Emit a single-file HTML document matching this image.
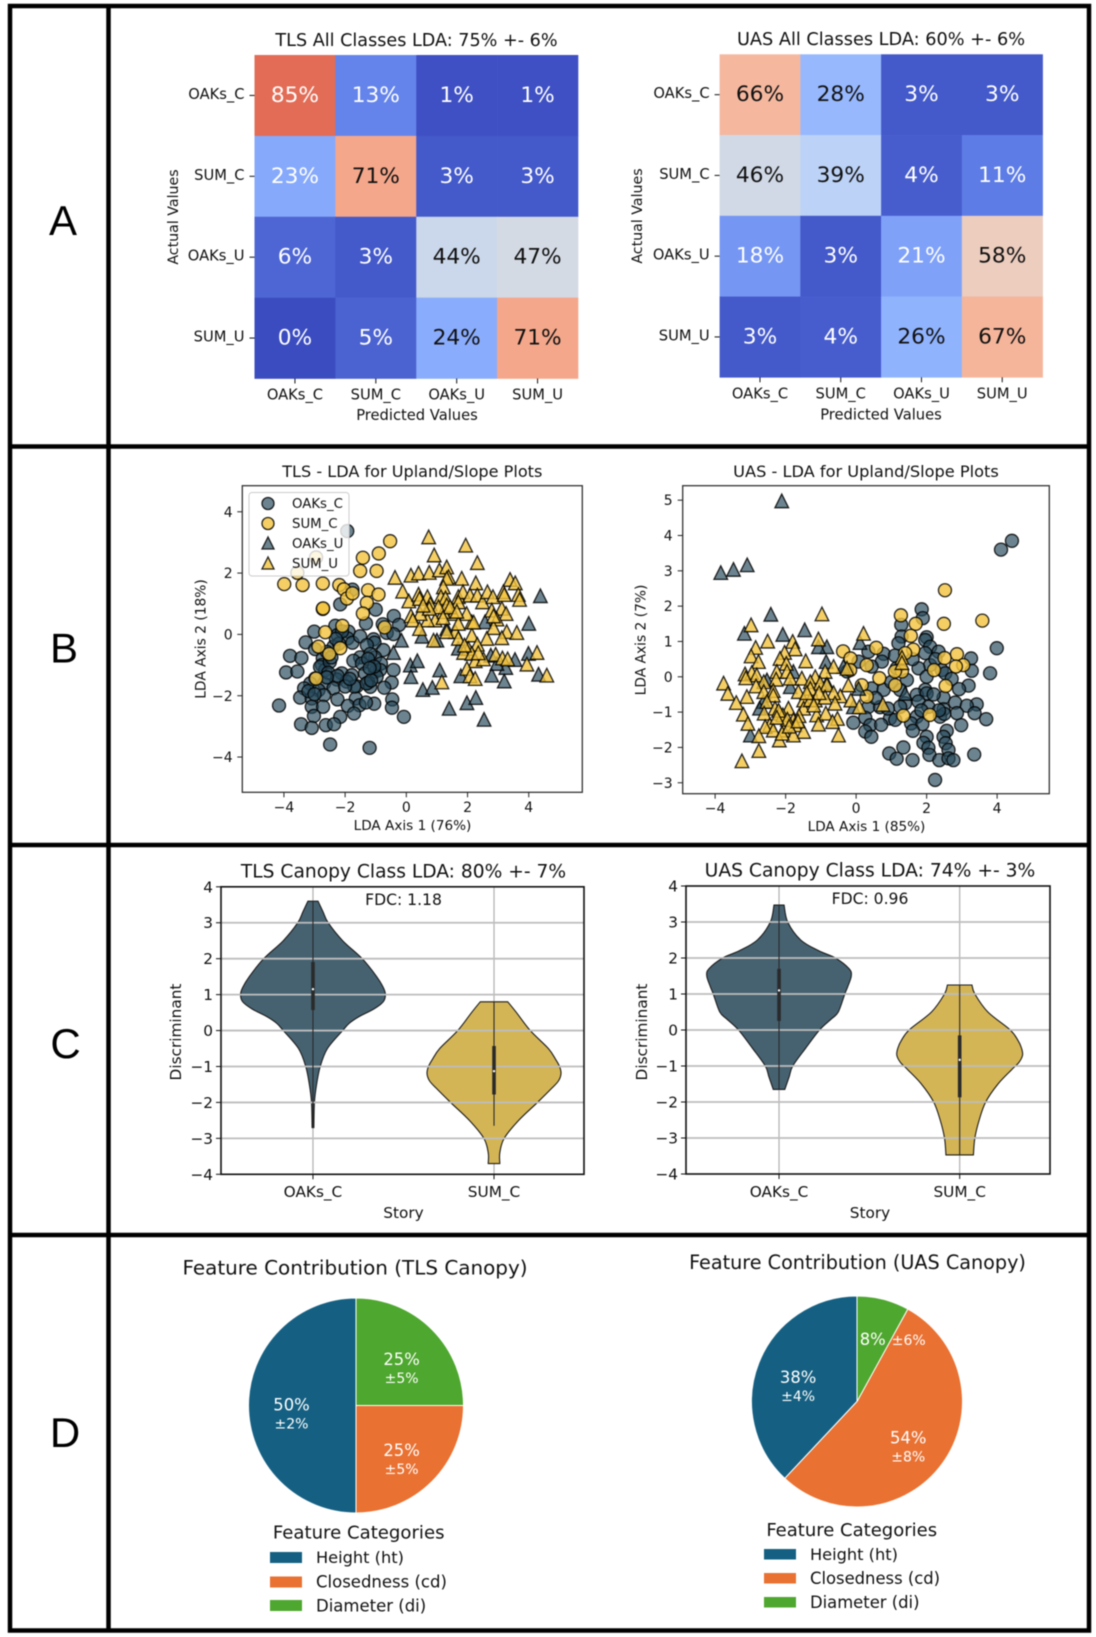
<!DOCTYPE html>
<html lang="en">
<head>
<meta charset="utf-8">
<title>LDA classification figure</title>
<style>
html,body{margin:0;padding:0;background:#fff;}
svg{display:block;filter:blur(0.45px);}
text{font-family:"DejaVu Sans","Liberation Sans",sans-serif;fill:#111;}
.letter{font-family:"Liberation Sans",sans-serif;font-size:42px;text-anchor:middle;fill:#000;}
.mid{text-anchor:middle;}
</style>
</head>
<body>
<svg id="fig" xmlns="http://www.w3.org/2000/svg" width="1096" height="1637" viewBox="0 0 1096 1637">
  <rect x="0" y="0" width="1096" height="1637" fill="#fff"/>

  <g>
    <text class="mid" x="416.5" y="46" font-size="17.6">TLS All Classes LDA: 75% +- 6%</text>
    <text class="mid" x="417" y="420" font-size="14.7">Predicted Values</text>
    <text class="mid" transform="translate(178,217) rotate(-90)" font-size="14.2">Actual Values</text>
    <g id="heatTLS"></g>
    <text class="mid" x="881" y="45" font-size="17.7">UAS All Classes LDA: 60% +- 6%</text>
    <text class="mid" x="881" y="419.5" font-size="14.7">Predicted Values</text>
    <text class="mid" transform="translate(642,216) rotate(-90)" font-size="14.2">Actual Values</text>
    <g id="heatUAS"></g>
  </g>

  <g>
    <text class="mid" x="412.3" y="477" font-size="16.1">TLS - LDA for Upland/Slope Plots</text>
    <text class="mid" x="412.5" y="830" font-size="13.6">LDA Axis 1 (76%)</text>
    <text class="mid" transform="translate(205.5,639) rotate(-90)" font-size="13.8">LDA Axis 2 (18%)</text>
    <g id="scatterTLS"></g>
    <g>
      <rect x="249" y="492.5" width="100" height="83.5" rx="3" fill="#fff" fill-opacity="0.8" stroke="#ccc" stroke-width="1"/>
      <circle cx="268" cy="503.5" r="6" fill="#264a5c" fill-opacity="0.68" stroke="#000" stroke-opacity="0.85" stroke-width="1.3"/>
      <circle cx="268" cy="523.5" r="6" fill="#f2c33d" fill-opacity="0.8" stroke="#000" stroke-opacity="0.85" stroke-width="1.3"/>
      <polygon points="268,537 262,549 274,549" fill="#264a5c" fill-opacity="0.68" stroke="#000" stroke-opacity="0.85" stroke-width="1.3"/>
      <polygon points="268,557 262,569 274,569" fill="#f2c33d" fill-opacity="0.8" stroke="#000" stroke-opacity="0.85" stroke-width="1.3"/>
      <text x="292" y="508" font-size="13.3">OAKs_C</text>
      <text x="292" y="528" font-size="13.3">SUM_C</text>
      <text x="292" y="548" font-size="13.3">OAKs_U</text>
      <text x="292" y="568" font-size="13.3">SUM_U</text>
    </g>
    <text class="mid" x="866" y="477" font-size="16.2">UAS - LDA for Upland/Slope Plots</text>
    <text class="mid" x="866.5" y="831" font-size="13.6">LDA Axis 1 (85%)</text>
    <text class="mid" transform="translate(645.5,640) rotate(-90)" font-size="13.8">LDA Axis 2 (7%)</text>
    <g id="scatterUAS"></g>
  </g>

  <g>
    <text class="mid" x="403.5" y="877.5" font-size="18.65">TLS Canopy Class LDA: 80% +- 7%</text>
    <text class="mid" x="403.5" y="1218" font-size="15.3">Story</text>
    <text class="mid" transform="translate(181,1032) rotate(-90)" font-size="15.3">Discriminant</text>
    <g id="violinTLS"></g>
    <text class="mid" x="403.5" y="905" font-size="15.6">FDC: 1.18</text>
    <text class="mid" x="870" y="876.5" font-size="18.7">UAS Canopy Class LDA: 74% +- 3%</text>
    <text class="mid" x="870" y="1218" font-size="15.3">Story</text>
    <text class="mid" transform="translate(647,1032) rotate(-90)" font-size="15.3">Discriminant</text>
    <g id="violinUAS"></g>
    <text class="mid" x="870" y="904" font-size="15.6">FDC: 0.96</text>
  </g>

  <g>
    <text class="mid" x="355" y="1274.5" font-size="19.95">Feature Contribution (TLS Canopy)</text>
    <g id="pieTLS"></g>
    <g>
      <text class="mid" x="358.7" y="1538.5" font-size="18.1">Feature Categories</text>
      <rect x="270" y="1552" width="32" height="11" fill="#156082"/>
      <rect x="270" y="1576.5" width="32" height="11" fill="#E97132"/>
      <rect x="270" y="1600" width="32" height="11" fill="#4EA72E"/>
      <text x="316" y="1563" font-size="16.2">Height (ht)</text>
      <text x="316" y="1587.5" font-size="16.5">Closedness (cd)</text>
      <text x="316" y="1611.5" font-size="16.5">Diameter (di)</text>
    </g>
    <text class="mid" x="857.5" y="1269" font-size="19.2">Feature Contribution (UAS Canopy)</text>
    <g id="pieUAS"></g>
    <g>
      <text class="mid" x="851.7" y="1536" font-size="18">Feature Categories</text>
      <rect x="764" y="1549" width="32" height="10.5" fill="#156082"/>
      <rect x="764" y="1573" width="32" height="10.5" fill="#E97132"/>
      <rect x="764" y="1597" width="32" height="10.5" fill="#4EA72E"/>
      <text x="810" y="1560" font-size="16.2">Height (ht)</text>
      <text x="810" y="1584" font-size="16.4">Closedness (cd)</text>
      <text x="810" y="1608" font-size="16.4">Diameter (di)</text>
    </g>
  </g>

  <g stroke="#000" fill="none">
    <rect x="10" y="6" width="1079" height="1624.5" stroke-width="4.5"/>
    <line x1="108.5" y1="6" x2="108.5" y2="1630" stroke-width="4.5"/>
    <line x1="10" y1="446.5" x2="1089" y2="446.5" stroke-width="4.5"/>
    <line x1="10" y1="845" x2="1089" y2="845" stroke-width="4.5"/>
    <line x1="10" y1="1235" x2="1089" y2="1235" stroke-width="4.5"/>
  </g>
  <text class="letter" x="63" y="235">A</text>
  <text class="letter" x="64" y="662.5">B</text>
  <text class="letter" x="65.5" y="1058">C</text>
  <text class="letter" x="65" y="1447">D</text>
</svg>

<script>
// ---------- chart data ----------
const heatCategories = ['OAKs_C','SUM_C','OAKs_U','SUM_U'];
const tlsConfusion = [[85,13,1,1],[23,71,3,3],[6,3,44,47],[0,5,24,71]];
const uasConfusion = [[66,28,3,3],[46,39,4,11],[18,3,21,58],[3,4,26,67]];

const tlsXTicks = [-4,-2,0,2,4];
const tlsYTicks = [-4,-2,0,2,4];
const uasXTicks = [-4,-2,0,2,4];
const uasYTicks = [-3,-2,-1,0,1,2,3,4,5];

const tlsOaksC = [[-1.93,3.37],[-1.76,1.46],[-2.16,.98],[-1,.81],[-1.32,.36],[-.41,.6],[-.24,.31],[-.77,.33],[-.64,.05],[-.42,.01],[-3.01,.09],[-2.32,.28],[-1.89,.09],[-2.25,-.02],[-1.92,-.13],[-1.76,-.27],[-1.51,-.06],[-1.07,-.16],[-1.04,-.27],[-3.29,-.26],[-2.98,-.48],[-1.29,-.35],[-.75,-.51],[-3.8,-.7],[-3.43,-.77],[-2.73,-.78],[-2.38,-.4],[-2.6,-.57],[-1.51,-.75],[-1.02,-.75],[-1.18,-.64],[-1.73,-.86],[-1.45,-.95],[-.83,-.95],[-3.93,-1.24],[-3.56,-1.21],[-2.76,-1],[-2.65,-1.16],[-2.82,-1.06],[-1.02,-1.22],[-.42,-1.16],[-.86,-1.16],[-2.11,-1.27],[-1.78,-1.33],[-1.35,-1.27],[-.97,-1.38],[-2.98,-1.44],[-2.27,-1.47],[-3.14,-1.6],[-3.34,-1.76],[-2.69,-1.6],[-1.95,-1.54],[-.48,-1.57],[-1.24,-1.57],[-1.62,-1.69],[-1.18,-1.71],[-.72,-1.74],[-2.87,-1.82],[-2.38,-1.76],[-3.47,-2.06],[-3.09,-2.09],[-2.69,-1.98],[-2.25,-2.12],[-1.65,-2.09],[-.46,-2.12],[-4.16,-2.32],[-3.09,-2.36],[-2.72,-2.36],[-1.91,-2.33],[-1.53,-2.31],[-1.05,-2.26],[-1.32,-2.22],[-.47,-2.39],[-1.71,-2.58],[-2.16,-2.69],[-3.02,-2.66],[-.08,-2.69],[-3.44,-2.93],[-3.09,-3.05],[-2.63,-2.96],[-2.36,-2.93],[-2.49,-3.59],[-1.2,-3.7],[-2.5,-.9],[-2.55,-1.25],[-2.45,-.75],[-1.25,-.8],[-1.05,-1.05],[-1.3,-1.6],[-2.2,-.3],[-2.1,.1],[-1.7,-1.7],[-2.25,-1.35],[-2,-1.7],[-3.2,-1.85],[-3,-1.95],[-1.15,-1.5],[-2.6,-1.4],[-1.2,-1.1],[-2.3,-.15],[-1.85,-1.45]];
const tlsSumC = [[-3.99,1.64],[-3.39,1.61],[-3.56,2.01],[-2.95,2.51],[-2.73,1.66],[-2.19,1.61],[-2.04,1.47],[-1.94,1.17],[-1.76,1.34],[-1.25,1.44],[-1.29,1.03],[-1.42,.68],[-.91,1.3],[-2.73,.83],[-2.72,.85],[-1.42,2.5],[-.9,2.64],[-.53,3.04],[-1.51,2.07],[-.97,2.07],[-.71,.23],[-2.09,.28],[-2.65,.07],[-2.87,-.4],[-2.16,-.45],[-2.52,-.64],[-2.95,-1.44]];
const tlsOaksU = [[4.38,1.26],[4,.36],[-.16,-.19],[-.42,-.59],[.13,-1],[.36,-.86],[.15,-1.38],[.54,-1.8],[.85,-1.73],[1.09,-1.16],[1.4,-2.41],[1.98,-2.23],[2.27,-2.06],[2.54,-2.77],[2.79,-1.33],[3.2,-1.52],[3.25,-1.08],[1.78,-1.35],[1.7,-.45],[2.76,-.68],[2.96,-.95],[3.55,-.82],[3.99,-.62],[4.32,-1.3],[2.57,.41],[1.32,.19],[.51,-.06],[1,-.19]];
const tlsSumU = [[.73,3.18],[1.94,2.91],[.91,2.59],[2.32,2.34],[-.37,1.86],[.15,1.93],[.4,2],[.75,2.02],[1.08,2.1],[1.32,2.2],[1.38,1.88],[1.32,1.83],[1.81,1.83],[2.27,1.68],[3.39,1.79],[3.56,1.68],[-.12,1.41],[.08,1.09],[.4,1.31],[.43,1.17],[.69,1.23],[.78,.99],[1.21,1.55],[1.13,1.23],[1.28,1.19],[1.7,1.23],[1.85,1.39],[1.7,1.06],[2.08,1.28],[2.32,1.28],[2.49,1.06],[2.65,1.39],[2.83,1.23],[3.17,1.39],[3.66,1.3],[3.7,1.14],[3.12,.85],[2.79,.79],[3.26,.68],[2.96,.5],[2.85,.22],[3.28,.09],[3.61,.06],[3.12,-.11],[2.63,-.13],[2.14,.41],[1.97,.68],[1.54,.68],[1.21,.74],[.94,.47],[.69,.47],[.45,.68],[.15,.61],[.21,.47],[.43,.19],[1.6,.09],[1.32,.09],[1.7,.36],[2.14,-.02],[1.7,-.13],[2.32,-.32],[.89,-.19],[2.03,-.46],[1.87,-.59],[2.14,-.62],[2.25,-.86],[2.52,-.8],[2.92,-.65],[3.14,-.77],[3.31,-.8],[4.27,-.59],[3.94,-.97],[4.59,-1.33],[1.98,-1.11],[2.08,-1.35],[2.25,-1.44],[1.16,-1.55],[1.32,.96],[1.05,.9],[1.43,.9],[3.2,1.3],[2.85,.6],[1.2,.55],[.75,.85],[2.2,.4],[1.65,.75],[.55,.95],[1.9,-.35],[2.35,-.6]];

const uasOaksC = [[4.42,3.85],[4.11,3.6],[1.86,1.91],[1.89,1.66],[1.28,1.47],[2,1.12],[1.29,1.14],[1.96,1.04],[1.2,.95],[2.1,.85],[3.99,.81],[.35,.71],[2.34,.71],[1.96,.67],[.78,.65],[1.1,.6],[3.26,.52],[.07,.43],[.73,.43],[2.1,.33],[.44,.29],[1.15,.24],[1.77,.24],[2.43,.19],[3.28,.17],[3.8,.1],[2.53,.1],[-.26,.15],[2,0],[2.71,-.06],[1.44,-.09],[.44,-.33],[.78,-.37],[3.19,-.25],[2.92,-.35],[1.96,-.37],[1.72,-.51],[2,-.47],[1.25,-.37],[2.48,-.59],[1.39,-.75],[1.77,-.7],[2.81,-.73],[.35,-.85],[.68,-.86],[1.25,-.85],[2.05,-.85],[3.42,-.78],[3.14,-.82],[2.48,-.92],[2.86,-1.03],[3.36,-1.03],[-.08,-1.3],[.26,-1.16],[.96,-1.18],[1.11,-1.22],[1.72,-1.13],[2.38,-1.13],[3.69,-1.2],[.4,-1.37],[.71,-1.36],[1.56,-1.32],[1.88,-1.34],[2.98,-1.37],[.26,-1.55],[1.61,-1.53],[2.57,-1.53],[.43,-1.7],[2,-1.7],[2.48,-1.7],[1.91,-1.87],[2.54,-1.88],[2.05,-2.01],[2.62,-2.07],[.94,-2.17],[1.34,-2],[3.35,-2.2],[2.08,-2.21],[1.15,-2.32],[1.6,-2.36],[2.36,-2.36],[2.62,-2.31],[2.76,-2.36],[2.24,-2.92],[2.5,-1.05],[2.35,-.95],[1.85,-.95],[2.2,-.5],[1.6,.5],[2.25,.5],[.9,-.9],[.55,-.6],[1,-.15]];
const uasSumC = [[2.52,2.45],[1.27,1.74],[3.58,1.59],[2.49,1.5],[1.69,1.5],[1.55,1.16],[1.62,.77],[.57,.82],[-.37,.72],[-.16,.52],[2.86,.64],[2.51,.53],[3.04,.33],[2.83,.29],[.3,.33],[2.21,.19],[1.3,.15],[1.1,.15],[1.39,.67],[.66,-.04],[-.17,.19],[1.11,-.24],[.16,-.24],[2.54,-.26],[.3,-.56],[1.34,-1.1],[2.09,-1.08]];
const uasOaksU = [[-2.11,4.98],[-3.84,2.95],[-3.48,3.04],[-3.09,3.17],[-2.42,1.77],[-3.17,1.23],[-2.08,1.2],[-1.46,1.33],[-.83,.85],[-1.07,.85],[.11,.97],[-.85,.43],[-.36,.29],[-1.78,.15],[-2.53,-.09],[-.83,-.18],[-1.87,-.28],[.07,-.33],[-2.63,-.7],[-2.74,-.89],[-.08,-.85],[-3,-1.65],[1.39,-.47]];
const uasSumU = [[-.97,1.78],[-2.98,1.47],[.21,1.23],[-2.51,1.01],[-1.07,1.07],[-1.8,1],[-2.85,.83],[-1.73,.79],[-2.03,.69],[-2.98,.59],[-2.16,.52],[-2.77,.43],[-1.43,.45],[-1.98,.38],[-.64,.29],[-.26,.24],[-2.25,.15],[-1.96,.15],[-3.15,.08],[-2.96,.12],[-2.82,.05],[-.88,.15],[-3.13,-.03],[-1.87,-.04],[-1.54,-.04],[-1.16,0],[-2.27,-.07],[-2.62,-.14],[-3.76,-.18],[-2.84,-.26],[-1.3,-.14],[-1.02,-.18],[-1.3,-.33],[-.22,-.23],[-.83,-.23],[-3.64,-.47],[-2.62,-.42],[-2.35,-.39],[-1.64,-.42],[-3.1,-.56],[-2.35,-.52],[-.45,-.54],[-.64,-.45],[-3.4,-.73],[-2.53,-.7],[-1.49,-.66],[-1.16,-.66],[-.88,-.58],[-.15,-.66],[-.6,-.75],[-2.3,-.89],[-1.92,-.89],[-1.49,-.89],[-2.16,-1.03],[.09,-.85],[.76,-.78],[-3.2,-1.06],[-2.61,-1.03],[-2.08,-1.08],[-1.62,-1.1],[-1.12,-1.08],[-.86,-1.03],[-3.07,-1.32],[-1.78,-1.22],[-.53,-1.18],[-.67,-1.27],[-1.07,-1.34],[-2.45,-1.36],[-2.58,-1.41],[-1.73,-1.36],[-2.35,-1.51],[-2.06,-1.51],[-1.49,-1.55],[-1.78,-1.65],[-2.76,-1.67],[-2.18,-1.79],[-.5,-1.65],[-2.76,-2.09],[-3.24,-2.38],[1.3,.55],[1.3,.4],[-1.3,-.65],[-2.2,-.95],[-1.95,-1.2],[-2.1,-1.6],[-1.4,-.45],[-1.9,-1.4],[-1.65,-1.25],[-2.25,-1.15],[-1.05,-.45],[-1.2,-.8]];

const violinCategories = ['OAKs_C','SUM_C'];
const violinYTicks = [-4,-3,-2,-1,0,1,2,3,4];
const tlsOaksLevels = [3.6,3.3,3,2.5,2,1.5,1.2,1,.8,.6,.38,.2,0,-.5,-1,-1.5,-2,-2.7];
const tlsOaksDensity = [.07,.14,.21,.41,.68,.88,.97,1,.97,.84,.63,.5,.41,.2,.1,.05,.02,.012];
const tlsSumLevels = [.8,.5,0,-.5,-.8,-1,-1.2,-1.4,-1.6,-2,-2.5,-3,-3.4,-3.7];
const tlsSumDensity = [.19,.31,.5,.75,.85,.905,.925,.89,.8,.6,.34,.14,.08,.08];
const uasOaksLevels = [3.47,3,2.5,2.2,2,1.7,1.5,1.2,1,.5,.3,0,-.5,-1,-1.3,-1.65];
const uasOaksDensity = [.07,.12,.3,.55,.78,.97,1,.95,.91,.82,.72,.56,.37,.19,.14,.08];
const uasSumLevels = [1.25,1,.5,0,-.3,-.5,-.7,-.9,-1.1,-1.5,-2,-2.5,-3,-3.47];
const uasSumDensity = [.17,.21,.39,.7,.81,.855,.87,.82,.72,.53,.36,.27,.21,.19];
// [whisker high, q3, median, q1, whisker low]
const tlsOaksBox = [3.6,1.91,1.15,.57,-2.7];
const tlsSumBox = [.8,-.43,-1.13,-1.78,-2.65];
const uasOaksBox = [3.47,1.7,1.1,.25,-1.65];
const uasSumBox = [1.25,-.15,-.83,-1.87,-3.47];

const pieColors = ['#156082','#E97132','#4EA72E'];
const tlsPieValues = [50,25,25];
const tlsPieErrors = [2,5,5];
const uasPieValues = [38,54,8];
const uasPieErrors = [4,8,6];

// ---------- helpers ----------
const NS = 'http://www.w3.org/2000/svg';
function mk(parent, tag, attrs, txt) {
  const e = document.createElementNS(NS, tag);
  for (const k in attrs) e.setAttribute(k, attrs[k]);
  if (txt !== undefined) e.textContent = txt;
  parent.appendChild(e);
  return e;
}
function linear(d0, d1, r0, r1) {
  return v => r0 + (v - d0) * (r1 - r0) / (d1 - d0);
}
function fmtTick(v) { return v < 0 ? '\u2212' + Math.abs(v) : String(v); }

const coolStops = [[59,76,192],[98,130,234],[141,176,254],[184,208,249],[221,221,221],[245,196,173],[244,154,123],[222,96,77],[180,4,38]];
function coolwarm(t) {
  const p = Math.max(0, Math.min(.9999, t)) * 8, i = Math.floor(p), f = p - i;
  const a = coolStops[i], b = coolStops[i + 1];
  return 'rgb(' + a.map((c, n) => Math.round(c + (b[n] - c) * f)).join(',') + ')';
}

// ---------- heatmaps ----------
function drawHeatmap(gid, matrix, x0, y0, size) {
  const g = document.getElementById(gid);
  const n = heatCategories.length, cell = size / n;
  const band = i => i * cell;
  matrix.forEach((row, r) => row.forEach((v, c) => {
    const rect = mk(g, 'rect', {x: x0 + band(c), y: y0 + band(r), width: cell + .3, height: cell + .3, fill: coolwarm(v / 100)});
    
    
  }));
  matrix.forEach((row, r) => row.forEach((v, c) => {
    const t = mk(g, 'text', {x: x0 + band(c) + cell / 2, y: y0 + band(r) + cell / 2 + 6.5, 'font-size': 21.7, 'text-anchor': 'middle'}, v + '%');
    t.style.fill = (v < 24 || v > 80) ? '#fff' : '#111';
    
    
  }));
  heatCategories.forEach((name, i) => {
    const xt = mk(g, 'line', {x1: x0 + band(i) + cell / 2, x2: x0 + band(i) + cell / 2, y1: y0 + size, y2: y0 + size + 5, stroke: '#111', 'stroke-width': 1});
    
    
    const xl = mk(g, 'text', {x: x0 + band(i) + cell / 2, y: y0 + size + 21, 'font-size': 14.7, 'text-anchor': 'middle'}, name);
    
    
    const yt = mk(g, 'line', {x1: x0 - 5, x2: x0, y1: y0 + band(i) + cell / 2, y2: y0 + band(i) + cell / 2, stroke: '#111', 'stroke-width': 1});
    
    
    const yl = mk(g, 'text', {x: x0 - 10, y: y0 + band(i) + cell / 2 + 3.5, 'font-size': 14.7, 'text-anchor': 'end'}, name);
    
    
  });
}
drawHeatmap('heatTLS', tlsConfusion, 254.5, 55, 323.5);
drawHeatmap('heatUAS', uasConfusion, 719.6, 54.3, 323);

// ---------- scatter ----------
function drawAxesFrame(g, box, sx, sy, xTicks, yTicks, fs, xBase, yRight) {
  xTicks.forEach(v => {
    const t = mk(g, 'line', {x1: sx(v), x2: sx(v), y1: box.b, y2: box.b + 5, stroke: '#222', 'stroke-width': 1});
    
    
    const l = mk(g, 'text', {x: sx(v), y: xBase, 'font-size': fs, 'text-anchor': 'middle'}, fmtTick(v));
    
    
  });
  yTicks.forEach(v => {
    const t = mk(g, 'line', {x1: box.l - 5, x2: box.l, y1: sy(v), y2: sy(v), stroke: '#222', 'stroke-width': 1});
    
    
    const l = mk(g, 'text', {x: yRight, y: sy(v) + fs * .36, 'font-size': fs, 'text-anchor': 'end'}, fmtTick(v));
    
    
  });
}
const DARK = '#264a5c', GOLD = '#f2c33d';
function drawCircles(g, pts, sx, sy, fill, op, name) {
  pts.forEach(p => {
    const c = mk(g, 'circle', {cx: sx(p[0]), cy: sy(p[1]), r: 6.5, fill: fill, 'fill-opacity': op, stroke: '#000', 'stroke-opacity': .85, 'stroke-width': 1.3});
    
    
  });
}
function drawTriangles(g, pts, sx, sy, fill, op, name) {
  pts.forEach(p => {
    const x = sx(p[0]), y = sy(p[1]), h = 6.8;
    const t = mk(g, 'polygon', {points: x + ',' + (y - h) + ' ' + (x - h) + ',' + (y + h) + ' ' + (x + h) + ',' + (y + h), fill: fill, 'fill-opacity': op, stroke: '#000', 'stroke-opacity': .85, 'stroke-width': 1.3});
    
    
  });
}
function drawScatter(gid, box, xlim, ylim, xTicks, yTicks, oc, sc, ou, su, xBase, yRight) {
  const g = document.getElementById(gid);
  const sx = linear(xlim[0], xlim[1], box.l, box.r), sy = linear(ylim[0], ylim[1], box.b, box.t);
  const bg = mk(g, 'rect', {x: box.l, y: box.t, width: box.r - box.l, height: box.b - box.t, fill: '#fff'});
  
  
  drawCircles(g, oc, sx, sy, DARK, .68, 'point-oaks-c');
  drawCircles(g, sc, sx, sy, GOLD, .8, 'point-sum-c');
  drawTriangles(g, ou, sx, sy, DARK, .68, 'point-oaks-u');
  drawTriangles(g, su, sx, sy, GOLD, .8, 'point-sum-u');
  const fr = mk(g, 'rect', {x: box.l, y: box.t, width: box.r - box.l, height: box.b - box.t, fill: 'none', stroke: '#333', 'stroke-width': 1.3});
  
  
  drawAxesFrame(g, box, sx, sy, xTicks, yTicks, 14, xBase, yRight);
}
drawScatter('scatterTLS', {l: 242.3, r: 582.3, t: 485.7, b: 792.3}, [-5.36, 5.75], [-5.15, 4.85], tlsXTicks, tlsYTicks, tlsOaksC, tlsSumC, tlsOaksU, tlsSumU, 812, 232.7);
drawScatter('scatterUAS', {l: 682.7, r: 1049.3, t: 485.7, b: 793.7}, [-4.92, 5.48], [-3.31, 5.41], uasXTicks, uasYTicks, uasOaksC, uasSumC, uasOaksU, uasSumU, 813, 672.7);

// ---------- violins ----------
function violinPath(sx, sy, cat, levels, density) {
  const right = levels.map((y, i) => [sx(cat + density[i] * .4), sy(y)]);
  const left = levels.map((y, i) => [sx(cat - density[i] * .4), sy(y)]).reverse();
  function spline(pts) {
    let d = '';
    for (let i = 0; i < pts.length - 1; i++) {
      const p0 = pts[Math.max(0, i - 1)], p1 = pts[i], p2 = pts[i + 1], p3 = pts[Math.min(pts.length - 1, i + 2)];
      d += 'C' + (p1[0] + (p2[0] - p0[0]) / 6) + ' ' + (p1[1] + (p2[1] - p0[1]) / 6) + ' ' + (p2[0] - (p3[0] - p1[0]) / 6) + ' ' + (p2[1] - (p3[1] - p1[1]) / 6) + ' ' + p2[0] + ' ' + p2[1];
    }
    return d;
  }
  return 'M' + right[0][0] + ' ' + right[0][1] + spline(right) + 'L' + left[0][0] + ' ' + left[0][1] + spline(left) + 'Z';
}
function drawViolinPlot(gid, box, xlim, v1, v2, yRight) {
  const g = document.getElementById(gid);
  const sx = linear(xlim[0], xlim[1], box.l, box.r), sy = linear(-4, 4, box.b, box.t);
  violinCategories.forEach((c, i) => {
    const gl = mk(g, 'line', {x1: sx(i), x2: sx(i), y1: box.t, y2: box.b, stroke: '#b0b0b0', 'stroke-width': 1.2});
    
    
  });
  [v1, v2].forEach((v, i) => {
    const p = mk(g, 'path', {d: violinPath(sx, sy, i, v.levels, v.density), fill: v.fill, stroke: '#1c1c1c', 'stroke-width': 1.1});
    
    
  });
  violinYTicks.slice(1, -1).forEach(v => {
    const gl = mk(g, 'line', {x1: box.l, x2: box.r, y1: sy(v), y2: sy(v), stroke: '#bdbdbd', 'stroke-width': 1.8});
    
    
  });
  [v1, v2].forEach((v, i) => {
    const w = mk(g, 'line', {x1: sx(i), x2: sx(i), y1: sy(v.box[0]), y2: sy(v.box[4]), stroke: '#2a2a2a', 'stroke-width': 1.1});
    
    
    const b = mk(g, 'line', {x1: sx(i), x2: sx(i), y1: sy(v.box[1]), y2: sy(v.box[3]), stroke: '#2a2a2a', 'stroke-width': 3.6});
    
    
    const m = mk(g, 'circle', {cx: sx(i), cy: sy(v.box[2]), r: 1.2, fill: '#fff'});
    
    
  });
  const fr = mk(g, 'rect', {x: box.l, y: box.t, width: box.r - box.l, height: box.b - box.t, fill: 'none', stroke: '#111', 'stroke-width': 1.6});
  
  
  violinCategories.forEach((c, i) => {
    const t = mk(g, 'line', {x1: sx(i), x2: sx(i), y1: box.b, y2: box.b + 5, stroke: '#111', 'stroke-width': 1});
    
    
    const l = mk(g, 'text', {x: sx(i), y: 1197, 'font-size': 15.3, 'text-anchor': 'middle'}, c);
    
    
  });
  violinYTicks.forEach(v => {
    const t = mk(g, 'line', {x1: box.l - 5, x2: box.l, y1: sy(v), y2: sy(v), stroke: '#111', 'stroke-width': 1});
    
    
    const l = mk(g, 'text', {x: yRight, y: sy(v) + 5.5, 'font-size': 15.3, 'text-anchor': 'end'}, fmtTick(v));
    
    
  });
}
const V_DARK = '#466271', V_GOLD = '#d4b556';
drawViolinPlot('violinTLS', {l: 221, r: 584, t: 886.8, b: 1174.3}, [-.508, 1.497],
  {levels: tlsOaksLevels, density: tlsOaksDensity, box: tlsOaksBox, fill: V_DARK},
  {levels: tlsSumLevels, density: tlsSumDensity, box: tlsSumBox, fill: V_GOLD}, 213);
drawViolinPlot('violinUAS', {l: 686, r: 1050, t: 886, b: 1174}, [-.515, 1.5],
  {levels: uasOaksLevels, density: uasOaksDensity, box: uasOaksBox, fill: V_DARK},
  {levels: uasSumLevels, density: uasSumDensity, box: uasSumBox, fill: V_GOLD}, 678);

// ---------- pies ----------
function drawPie(gid, values, errors, cx, cy, r) {
  const g = document.getElementById(gid);
  const total = values.reduce((a, b) => a + b, 0);
  let acc = 0;
  const pos = (f, rad) => {
    const a = Math.PI / 2 + f * 2 * Math.PI; // counter-clockwise from 12 o'clock
    return [cx + rad * Math.cos(a), cy - rad * Math.sin(a)];
  };
  const mids = [];
  values.forEach((v, i) => {
    const f0 = acc / total, f1 = (acc + v) / total;
    acc += v;
    mids.push((f0 + f1) / 2);
    const p0 = pos(f0, r), p1 = pos(f1, r);
    const large = (f1 - f0) > .5 ? 1 : 0;
    const s = mk(g, 'path', {d: 'M' + cx + ' ' + cy + 'L' + p0[0] + ' ' + p0[1] + 'A' + r + ' ' + r + ' 0 ' + large + ' 0 ' + p1[0] + ' ' + p1[1] + 'Z', fill: pieColors[i], stroke: '#fff', 'stroke-width': 1});
    
    
  });
  values.forEach((v, i) => {
    const c = pos(mids[i], r * .6);
    const small = v < 10;
    const a = mk(g, 'text', {x: c[0], y: c[1] + 5, 'font-size': 16.4, 'text-anchor': 'middle'}, v + '%');
    a.style.fill = '#fff';
    
    
    const b = mk(g, 'text', {x: c[0] + (small ? 36 : 0), y: c[1] + (small ? 5 : 23), 'font-size': 14, 'text-anchor': 'middle'}, '\u00b1' + errors[i] + '%');
    b.style.fill = '#fff';
    
    
  });
}
drawPie('pieTLS', tlsPieValues, tlsPieErrors, 356, 1405.5, 107.5);
drawPie('pieUAS', uasPieValues, uasPieErrors, 857, 1401.5, 105.5);
</script>
</body>
</html>
